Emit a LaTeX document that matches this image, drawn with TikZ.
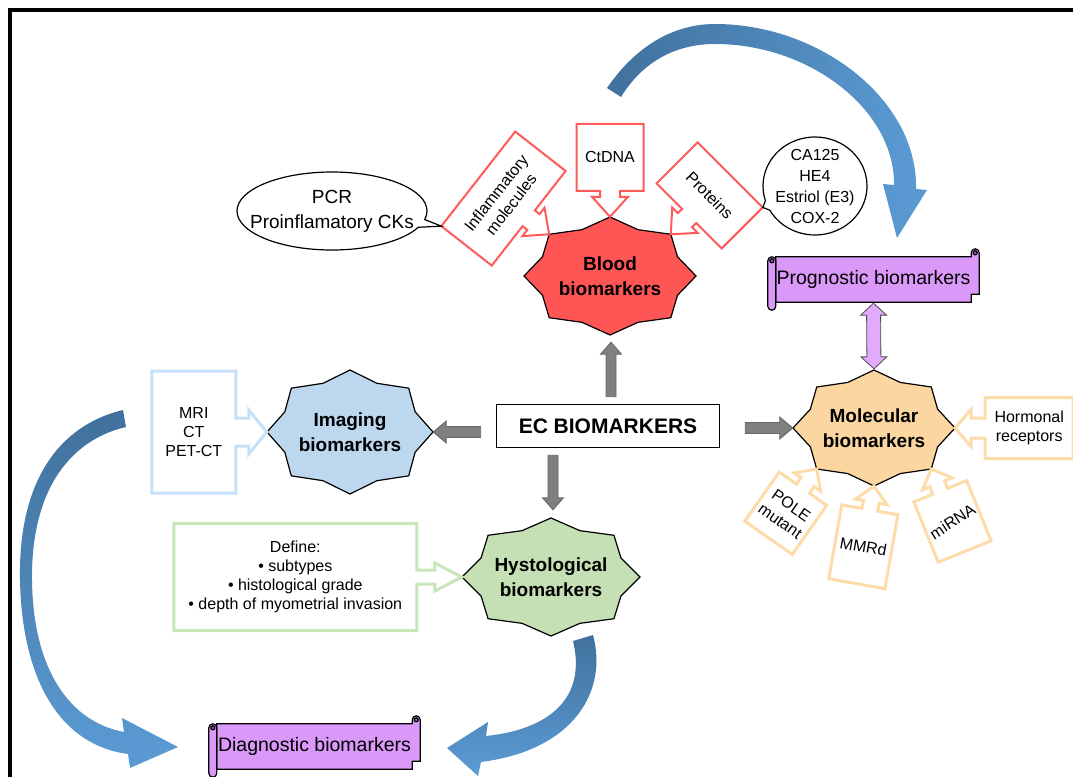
\documentclass[tikz,border=0pt]{standalone}
\usepackage{fontspec}
\setmainfont{Liberation Sans}
\usetikzlibrary{calc,backgrounds,shapes.callouts}

\definecolor{bloodfill}{RGB}{255,85,85}
\definecolor{bloodline}{RGB}{255,90,90}
\definecolor{imagfill}{RGB}{189,215,238}
\definecolor{imagline}{RGB}{197,224,250}
\definecolor{histfill}{RGB}{197,224,180}
\definecolor{histline}{RGB}{200,230,185}
\definecolor{molfill}{RGB}{251,214,160}
\definecolor{molline}{RGB}{253,220,170}
\definecolor{scrollfill}{RGB}{218,152,248}
\definecolor{scrolldark}{RGB}{150,90,180}
\definecolor{arrowpurple}{RGB}{225,170,250}
\definecolor{arrowgray}{RGB}{128,128,128}
\definecolor{arcdark}{RGB}{65,113,156}
\definecolor{arclight}{RGB}{91,155,213}

\tikzset{
  dims/.code args={#1/#2/#3/#4}{\def\shw{#1}\def\hhw{#2}\def\shl{#3}\def\hdl{#4}},
  dims=10/18/6/20
}

% box with a block pointer: [style]{name}{tip}{pointer direction}{width}{height}{text angle}{text}
\newcommand{\boxcallout}[8][]{%
  \begin{scope}[shift={#3}, rotate=#4+90]
    \filldraw[#1] (-#5/2,\hdl+\shl) -- (-\shw,\hdl+\shl) -- (-\shw,\hdl) -- (-\hhw,\hdl) -- (0,0)
      -- (\hhw,\hdl) -- (\shw,\hdl) -- (\shw,\hdl+\shl) -- (#5/2,\hdl+\shl)
      -- (#5/2,\hdl+\shl+#6) -- (-#5/2,\hdl+\shl+#6) -- cycle
      (-#5/2,\hdl+\shl+#6) coordinate (#2-a)
      (#5/2,\hdl+\shl+#6) coordinate (#2-b)
      (0,\hdl+\shl+#6/2) node[calltext, rotate=#7] (#2) {#8};
  \end{scope}}

% eight point seal behind a node: {node}{rx}{ry}{fill}
\newcommand{\sealshape}[4]{%
  \begin{scope}[on background layer]
    \filldraw[fill=#4, draw=black, line width=1.2pt, shift={(#1.center)}]
      plot[samples at={0,...,15}] ({#2*(1-0.15*mod(\x,2))*cos(22.5*\x)}, {#3*(1-0.15*mod(\x,2))*sin(22.5*\x)}) -- cycle;
  \end{scope}}

% horizontal scroll behind a node
\newcommand{\scrollshape}[1]{%
  \begin{scope}[on background layer]
    \filldraw[scrollpart] let \p1=(#1.north west), \p2=(#1.south east) in
      (\x1+8,\y1) -- (\x2-8,\y1) -- (\x2-8,\y1+4) arc[start angle=180, end angle=0, radius=4pt]
      -- (\x2,\y2+8) -- (\x2-8,\y2+8) -- (\x2-8,\y2) -- (\x1+8,\y2) -- cycle;
    \filldraw[scrollpart] let \p1=(#1.north west), \p2=(#1.south east) in
      (\x1,\y1-4) arc[start angle=180, end angle=0, radius=4pt] -- (\x1+8,\y2-4)
      arc[start angle=0, end angle=-180, radius=4pt] -- cycle;
    \filldraw[scrollpart, fill=scrolldark] let \p1=(#1.north west), \p2=(#1.south east) in
      (\x1+4,\y1-4) circle[radius=2pt] (\x2-4,\y1+4) circle[radius=2pt];
  \end{scope}}

% straight block arrows: {style}{from}{to}{shaft half}{head half}{head length}
\newcommand{\blockarrow}[6]{%
  \filldraw[#1] let \p1=#2, \p2=#3, \n1={atan2(\y2-\y1,\x2-\x1)}, \n2={veclen(\x2-\x1,\y2-\y1)} in
    [shift={(\p1)}, rotate=\n1] (0,-#4) -- (\n2-#6,-#4) -- (\n2-#6,-#5) -- (\n2,0)
    -- (\n2-#6,#5) -- (\n2-#6,#4) -- (0,#4) -- cycle;}
\newcommand{\dblarrow}[6]{%
  \filldraw[#1] let \p1=#2, \p2=#3, \n1={atan2(\y2-\y1,\x2-\x1)}, \n2={veclen(\x2-\x1,\y2-\y1)} in
    [shift={(\p1)}, rotate=\n1] (0,0) -- (#6,#5) -- (#6,#4) -- (\n2-#6,#4) -- (\n2-#6,#5) -- (\n2,0)
    -- (\n2-#6,-#5) -- (\n2-#6,-#4) -- (#6,-#4) -- (#6,-#5) -- cycle;}

\begin{document}
\begin{tikzpicture}[x=1pt, y=1pt,
    sealtext/.style={inner sep=0pt, align=center, font=\fontsize{19}{25}\selectfont\bfseries},
    scrolltext/.style={inner sep=0pt, font=\fontsize{19.5}{23}\selectfont},
    scrollpart/.style={fill=scrollfill, draw=black, line width=1.2pt},
    calltext/.style={inner sep=0pt, align=center, font=\fontsize{16}{19}\selectfont},
    redbox/.style={draw=bloodline, line width=2pt, fill=white, dims=10/18/6/20},
    bluebox/.style={draw=imagline, line width=3pt, fill=white, dims=14/22/13/18},
    greenbox/.style={draw=histline, line width=3pt, fill=white, dims=7/14/18/27},
    orangebox/.style={draw=molline, line width=3pt, fill=white, dims=8/16/8/16},
    bubble/.style={ellipse callout, draw, fill=white, line width=1.2pt, align=center,
      inner xsep=-20pt, inner ysep=-10pt, callout pointer arc=12},
    grayarrow/.style={fill=arrowgray, draw=black!60, line width=0.8pt},
    purplearrow/.style={fill=arrowpurple, draw=black!70, line width=0.8pt},
    ecbox/.style={draw, line width=1.6pt, minimum width=223pt, minimum height=43pt,
      inner sep=0pt, font=\fontsize{21}{25}\selectfont\bfseries}
  ]
\useasboundingbox (0,0) rectangle (1073,-776);

% curved block arrows
\shade[left color=arcdark, right color=arclight] (607,-88) .. controls (640,-40) and (680,-24) .. (715,-24)
  .. controls (820,-24) and (918,-100) .. (916,-189) -- (927,-190) -- (897,-238) -- (883,-184) -- (894,-185)
  .. controls (895,-110) and (810,-44) .. (715,-44) .. controls (680,-44) and (645,-58) .. (621,-97) -- cycle;
\shade[top color=arcdark, bottom color=arclight] (123,-410) .. controls (60,-425) and (18,-480) .. (20,-580)
  .. controls (22,-680) and (60,-745) .. (128,-754) -- (130,-768) -- (178,-747) -- (122,-718) -- (124,-732)
  .. controls (70,-722) and (33,-670) .. (32,-580) .. controls (31,-490) and (70,-440) .. (126,-427) -- cycle;
\shade[top color=arcdark, bottom color=arclight] (593,-635) .. controls (608,-690) and (575,-750) .. (481,-762)
  -- (478,-776) -- (447,-748) -- (488,-722) -- (486,-736)
  .. controls (560,-728) and (585,-690) .. (573,-641) -- cycle;

% frame
\draw[line width=4pt] (10,-790) -- (10,-10) -- (1090,-10);

% main nodes
\node[ecbox] (ec) at (608,-426) {EC BIOMARKERS};
\node[sealtext, minimum width=172pt, minimum height=118pt] (blood) at (610,-276) {Blood\\biomarkers};
\node[sealtext, minimum width=166pt, minimum height=124pt] (imaging) at (350,-432) {Imaging\\biomarkers};
\node[sealtext, minimum width=178pt, minimum height=118pt] (histo) at (551,-577) {Hystological\\biomarkers};
\node[sealtext, minimum width=162pt, minimum height=116pt] (molec) at (874,-428) {Molecular\\biomarkers};
\sealshape{blood}{86}{59}{bloodfill}
\sealshape{imaging}{83}{62}{imagfill}
\sealshape{histo}{89}{59}{histfill}
\sealshape{molec}{81}{58}{molfill}

\node[scrolltext, minimum width=211pt, minimum height=45pt] (progn) at (873.5,-279.5) {Prognostic biomarkers};
\node[scrolltext, minimum width=211pt, minimum height=45pt] (diagn) at (314.5,-746.5) {Diagnostic biomarkers};
\scrollshape{progn}
\scrollshape{diagn}

% arrows out of EC BIOMARKERS
\blockarrow{grayarrow}{($(ec.north)+(3,7)$)}{($(blood.south)+(1,-7)$)}{5}{10.5}{12}
\blockarrow{grayarrow}{($(ec.south)+(-55,-7)$)}{($(histo.north)+(2,8)$)}{5}{10.5}{12}
\blockarrow{grayarrow}{($(ec.west)+(-15,-6)$)}{(imaging.east)}{5.5}{11}{13}
\blockarrow{grayarrow}{($(ec.east)+(25,-2)$)}{(molec.west)}{5.5}{11}{13}
\dblarrow{purplearrow}{($(progn.south)+(0,-1)$)}{($(molec.north)+(0,1)$)}{7}{13}{12}

% blood
\boxcallout[redbox]{ctdna}{(blood.north)}{-90}{67}{67}{0}{CtDNA}
\boxcallout[redbox]{inflam}{($(blood.center)+(135:86 and 59)$)}{-38}{120}{64}{52}{Inflammatory\\molecules}
\boxcallout[redbox]{prot}{($(blood.center)+(45:86 and 59)$)}{-135}{92}{58}{-45}{Proteins}
\node[bubble, minimum width=190pt, minimum height=78pt, callout absolute pointer={(inflam-a)},
  font=\fontsize{19}{25}\selectfont] (pcr) at (332,-211) {PCR\\Proinflamatory CKs};
\node[bubble, minimum width=104pt, minimum height=98pt, callout absolute pointer={(prot-b)},
  font=\fontsize{16}{21}\selectfont] (ca) at (815,-186) {CA125\\HE4\\Estriol (E3)\\COX-2};

% imaging, histology
\boxcallout[bluebox]{mri}{(imaging.west)}{0}{122}{84}{0}{MRI\\CT\\PET-CT}
\boxcallout[greenbox]{define}{(histo.west)}{0}{107}{243}{0}{Define:\\• subtypes\\• histological grade\\• depth of myometrial invasion}

% molecular
\boxcallout[orangebox, dims=10/19/14/16]{hormon}{(molec.east)}{180}{61}{88}{0}{Hormonal\\receptors}
\boxcallout[orangebox]{pole}{($(molec.center)+(225:81 and 58)$)}{55}{58}{60}{-35}{POLE\\mutant}
\boxcallout[orangebox]{mmrd}{(molec.south)}{80}{57}{75}{-10}{MMRd}
\boxcallout[orangebox]{mirna}{($(molec.center)+(315:81 and 58)$)}{112}{57}{65}{33}{miRNA}
\end{tikzpicture}
\end{document}
